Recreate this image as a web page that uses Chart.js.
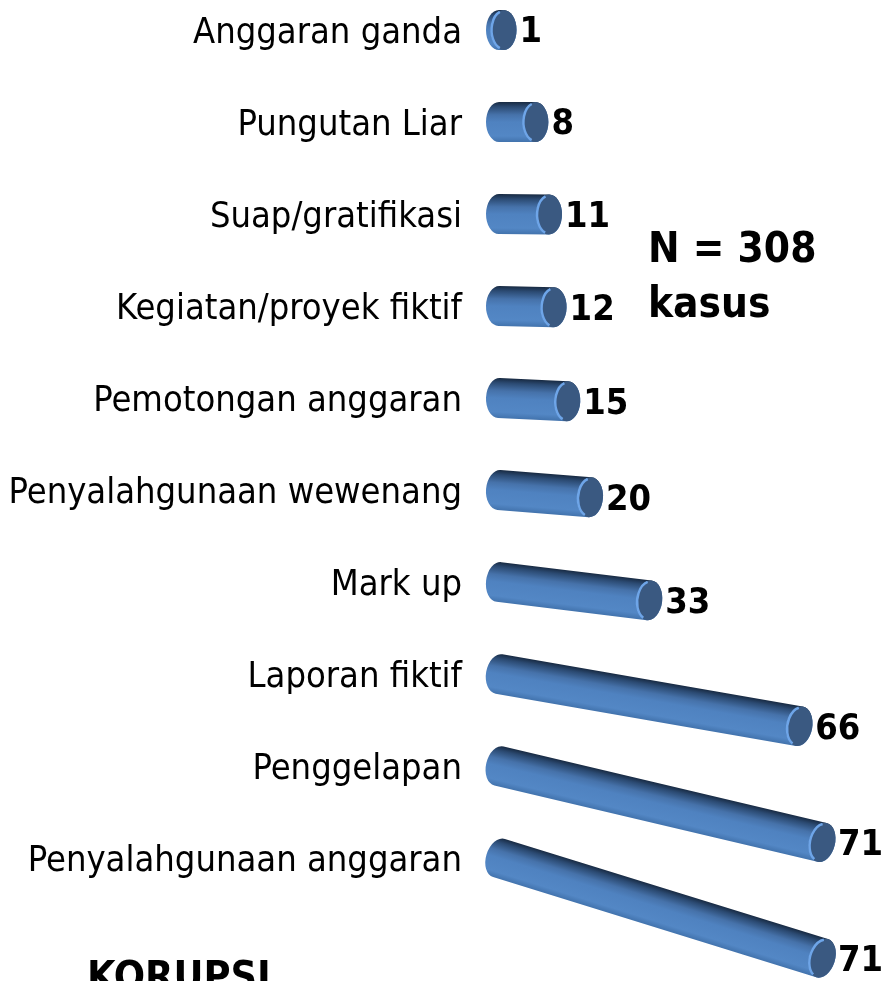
<!DOCTYPE html>
<html>
<head>
<meta charset="utf-8">
<script src="https://cdn.jsdelivr.net/npm/chart.js@4.4.1/dist/chart.umd.min.js"></script>
<style>
html, body { margin: 0; padding: 0; background: #fff; overflow: hidden; }
</style>
</head>
<body>
<canvas id="mycanvas" width="885" height="981"></canvas>
<script>
// data, top row first
var categories = [
	"Anggaran ganda",
	"Pungutan Liar",
	"Suap/gratifikasi",
	"Kegiatan/proyek fiktif",
	"Pemotongan anggaran",
	"Penyalahgunaan wewenang",
	"Mark up",
	"Laporan fiktif",
	"Penggelapan",
	"Penyalahgunaan anggaran"
];
var cases = [1, 8, 11, 12, 15, 20, 33, 66, 71, 71];
var totalNote = ["N = 308", "kasus"];
var footerTitle = "KORUPSI";

var labelFont = "'DejaVu Sans Condensed', 'DejaVu Sans', sans-serif";

// draws each bar as a tilted 3d cylinder, using the positions chart.js computed
var cylinders = {
	id: "cylinders",
	afterDatasetsDraw: function(chart) {
		var ctx = chart.ctx;
		var meta = chart.getDatasetMeta(0);
		var n = meta.data.length;
		meta.data.forEach(function(bar, i) {
			var t = i / (n - 1);
			var slope = 0.31 * Math.pow(t, 2.3);
			var x0 = bar.base, y0 = bar.y;
			var x1 = bar.x, y1 = bar.y + slope * (bar.x - bar.base);
			var ang = Math.atan2(y1 - y0, x1 - x0);
			var len = Math.sqrt((x1 - x0) * (x1 - x0) + (y1 - y0) * (y1 - y0));
			var r = 20, rx = 13;

			ctx.save();
			ctx.translate(x0, y0);
			ctx.rotate(ang);

			var g = ctx.createLinearGradient(0, -r, 0, r);
			g.addColorStop(0, "#182a42");
			g.addColorStop(0.12, "#2b4a72");
			g.addColorStop(0.32, "#4672aa");
			g.addColorStop(0.5, "#4f82c0");
			g.addColorStop(0.85, "#5387c5");
			g.addColorStop(1, "#4273ad");

			ctx.beginPath();
			ctx.moveTo(0, -r);
			ctx.lineTo(len, -r);
			ctx.ellipse(len, 0, rx, r, 0, -Math.PI / 2, Math.PI / 2);
			ctx.lineTo(0, r);
			ctx.ellipse(0, 0, rx, r, 0, Math.PI / 2, Math.PI * 1.5);
			ctx.closePath();
			ctx.fillStyle = g;
			ctx.fill();

			// front cap
			ctx.beginPath();
			ctx.ellipse(len, 0, rx, r, 0, 0, Math.PI * 2);
			ctx.fillStyle = "#3a5981";
			ctx.fill();
			ctx.beginPath();
			ctx.ellipse(len, 0, rx - 1, r - 1, 0, Math.PI * 0.6, Math.PI * 1.4);
			ctx.strokeStyle = "#6ea5e8";
			ctx.lineWidth = 2.5;
			ctx.stroke();
			ctx.restore();

			ctx.save();
			ctx.font = "bold 36px " + labelFont;
			ctx.fillStyle = "#000";
			ctx.textAlign = "left";
			ctx.textBaseline = "middle";
			ctx.fillText(chart.data.datasets[0].data[i], x1 + 16, y1 + 3);
			ctx.restore();
		});
	}
};

var notes = {
	id: "notes",
	afterDraw: function(chart) {
		var ctx = chart.ctx;
		ctx.save();
		ctx.fillStyle = "#000";
		ctx.textAlign = "left";
		ctx.textBaseline = "alphabetic";
		ctx.font = "bold 42px " + labelFont;
		ctx.fillText(totalNote[0], 648, 262);
		ctx.fillText(totalNote[1], 648, 317);
		ctx.font = "bold 41px " + labelFont;
		ctx.fillText(footerTitle, 87, 990);
		ctx.restore();
	}
};

var ctx = document.getElementById("mycanvas");

var chartdata = {
	labels: categories,
	datasets: [
		{
			data: cases,
			backgroundColor: "rgba(0,0,0,0)",
			borderWidth: 0
		}
	]
};

var new_chart = new Chart(ctx, {
	type: "bar",
	data: chartdata,
	plugins: [cylinders, notes],
	options: {
		indexAxis: "y",
		responsive: false,
		animation: false,
		layout: { padding: { top: 30, bottom: 123, right: 22, left: 0 } },
		plugins: {
			legend: { display: false },
			tooltip: { enabled: false }
		},
		scales: {
			x: { display: false, min: 0, max: 80 },
			y: {
				offset: false,
				grid: { display: false, drawTicks: false },
				border: { display: false },
				ticks: {
					color: "#000",
					autoSkip: false,
					padding: 37,
					labelOffset: 4,
					font: { family: labelFont, size: 36 }
				},
				afterFit: function(scale) {
					scale.width = 499;
					scale.paddingTop = 0;
					scale.paddingBottom = 0;
				}
			}
		}
	}
});
</script>
</body>
</html>
